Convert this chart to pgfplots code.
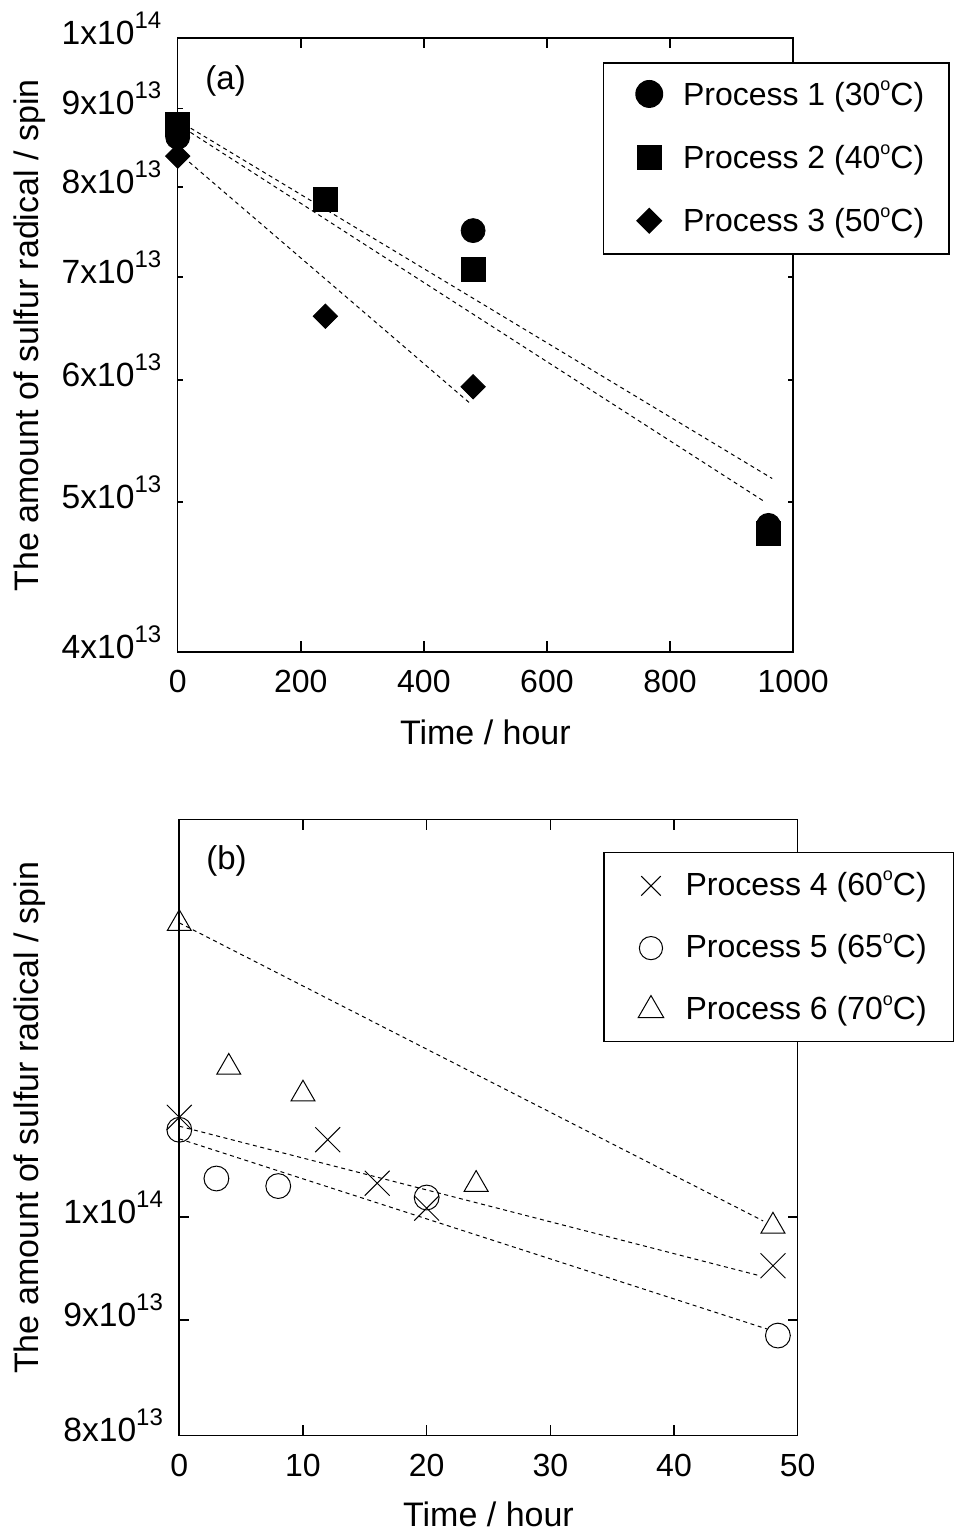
\documentclass[border=0pt]{standalone}
\usepackage{fontspec}
\setmainfont{Liberation Sans}
\usepackage{pgfplots}
\pgfplotsset{compat=1.18}
\newcommand{\sci}[2]{#1x10\raisebox{8pt}{\fontsize{12}{12}\selectfont #2}}
\newcommand{\degC}{\raisebox{0.45em}{\fontsize{9}{9}\selectfont o}C}
\pgfplotsset{
  myaxis/.style={
    scale only axis, clip=false,
    axis line style={line width=0.8pt},
    every tick/.style={black, line width=0.8pt},
    xtick style={/pgfplots/major tick length=5.3pt},
    tick align=inside,
    xtick pos=both, ytick pos=both,
    yminorticks=false, xminorticks=false,
    ticklabel style={font=\fontsize{16}{16}\selectfont, inner sep=0pt},
    xticklabel style={anchor=base, yshift=-20.5pt},
    yticklabel style={anchor=base east, xshift=-8pt, yshift=-3.2pt, font=\fontsize{16.8}{16.8}\selectfont},
    xlabel style={font=\fontsize{17}{17}\selectfont, anchor=base},
    ylabel style={font=\fontsize{17}{17}\selectfont, anchor=base, rotate=0},
    legend cell align=left,
  },
  fitline/.style={black, line width=0.5pt, dash pattern=on 2pt off 1.8pt, no marks, forget plot},
}
\begin{document}
\begin{tikzpicture}
% ---------------- panel (a) ----------------
\begin{axis}[myaxis,
  at={(88.85pt,440pt)}, anchor=south west,
  width=307.7pt, height=307pt,
  xmin=0, xmax=1000, ymode=log, ymin=4e13, ymax=1e14,
  xtick={0,200,400,600,800,1000}, xticklabels={0,200,400,600,800,1000},
  ytick={4e13,5e13,6e13,7e13,8e13,9e13,1e14},
  yticklabels={\sci{4}{13},\sci{5}{13},\sci{6}{13},\sci{7}{13},\sci{8}{13},\sci{9}{13},\sci{1}{14}},
  ytick style={/pgfplots/major tick length=2.5pt},
  xlabel={Time / hour}, ylabel={The amount of sulfur radical / spin},
  xlabel style={at={(axis description cs:0.5,-0.1515)}},
  ylabel style={at={(axis description cs:-0.2269,0.5153)}},
  legend style={at={(0.6907,0.9598)}, anchor=north west, draw=black, line width=0.75pt,
    fill=white, inner xsep=6.5pt, inner ysep=8pt, row sep=15.7pt, column sep=0.5pt,
    font=\fontsize{16}{16}\selectfont,
    nodes={inner sep=0pt, text height=13pt, text depth=3pt}},
  legend image code/.code={\path (-16pt,0pt) (16pt,0pt); \draw[#1, overlay] plot coordinates {(0pt,0.6pt)};},
]
\addplot[fitline] coordinates {(0,8.84e13) (966,5.18e13)};
\addplot[fitline] coordinates {(0,8.79e13) (955,5.00e13)};
\addplot[fitline] coordinates {(0,8.43e13) (474,5.80e13)};
\addplot[only marks, black, mark=*, mark size=6pt, mark options={fill=black},
  legend image post style={mark size=6.6pt}]
  coordinates {(0,8.62e13) (480,7.50e13) (960,4.83e13)};
\addlegendentry{Process 1 (30\degC)\hspace*{6pt}}
\addplot[only marks, black, mark=square*, mark size=6pt, mark options={fill=black}]
  coordinates {(0,8.79e13) (240,7.86e13) (480,7.08e13) (960,4.775e13)};
\addlegendentry{Process 2 (40\degC)\hspace*{6pt}}
\addplot[only marks, black, mark=square*, mark size=4.3pt, mark options={fill=black, rotate=45}]
  coordinates {(0,8.38e13) (240,6.60e13) (480,5.94e13)};
\addlegendentry{Process 3 (50\degC)\hspace*{6pt}}
\node[anchor=base west, inner sep=0pt, font=\fontsize{16.5}{16.5}\selectfont] at (axis description cs:0.0444,0.9153) {(a)};
\end{axis}
% ---------------- panel (b) ----------------
\begin{axis}[myaxis,
  at={(89.65pt,48pt)}, anchor=south west,
  width=309.2pt, height=308pt,
  xmin=0, xmax=50, ymode=log, ymin=8e13, ymax=1.5e14,
  xtick={0,10,20,30,40,50}, xticklabels={0,10,20,30,40,50},
  ytick={8e13,9e13,1e14},
  yticklabels={\sci{8}{13},\sci{9}{13},\sci{1}{14}},
  ytick style={/pgfplots/major tick length=5pt},
  xlabel={Time / hour}, ylabel={The amount of sulfur radical / spin},
  xlabel style={at={(axis description cs:0.5,-0.147)}},
  ylabel style={at={(axis description cs:-0.228,0.516)}},
  legend style={at={(0.6856,0.9476)}, anchor=north west, draw=black, line width=0.75pt,
    fill=white, inner xsep=7.1pt, inner ysep=8pt, row sep=14.8pt, column sep=0.9pt,
    font=\fontsize{16}{16}\selectfont,
    nodes={inner sep=0pt, text height=13.3pt, text depth=3pt}},
  legend image code/.code={\path (-16pt,0pt) (16pt,0pt); \draw[#1, overlay] plot coordinates {(0pt,-0.5pt)};},
]
\addplot[fitline] coordinates {(0,1.35e14) (47.2,0.996e14)};
\addplot[fitline] coordinates {(0,1.097e14) (46.95,0.9417e14)};
\addplot[fitline] coordinates {(0,1.083e14) (47.5,0.892e14)};
\addplot[only marks, black, mark=x, mark size=8.8pt, mark options={line width=0.5pt},
  legend image post style={mark size=6.9pt}]
  coordinates {(0,1.107e14) (12,1.082e14) (16,1.035e14) (20,1.009e14) (48,0.9514e14)};
\addlegendentry{Process 4 (60\degC)\hspace*{6.3pt}}
\addplot[only marks, black, mark=o, mark size=6.2pt, mark options={line width=0.5pt},
  legend image post style={mark size=5.8pt}]
  coordinates {(0,1.093e14) (3,1.040e14) (8,1.032e14) (20,1.020e14) (48.4,0.886e14)};
\addlegendentry{Process 5 (65\degC)\hspace*{6.3pt}}
\addplot[only marks, black, mark=triangle, mark size=6.9pt, mark options={line width=0.5pt},
  legend image post style={mark size=7.4pt}]
  coordinates {(0,1.349e14) (4,1.165e14) (10,1.1336e14) (24,1.0338e14) (48,0.9906e14)};
\addlegendentry{Process 6 (70\degC)\hspace*{6.3pt}}
\node[anchor=base west, inner sep=0pt, font=\fontsize{16.5}{16.5}\selectfont] at (axis description cs:0.0432,0.919) {(b)};
\end{axis}
\pgfresetboundingbox
\path[use as bounding box] (0pt,0pt) rectangle (478pt,766pt);
\end{tikzpicture}
\end{document}
